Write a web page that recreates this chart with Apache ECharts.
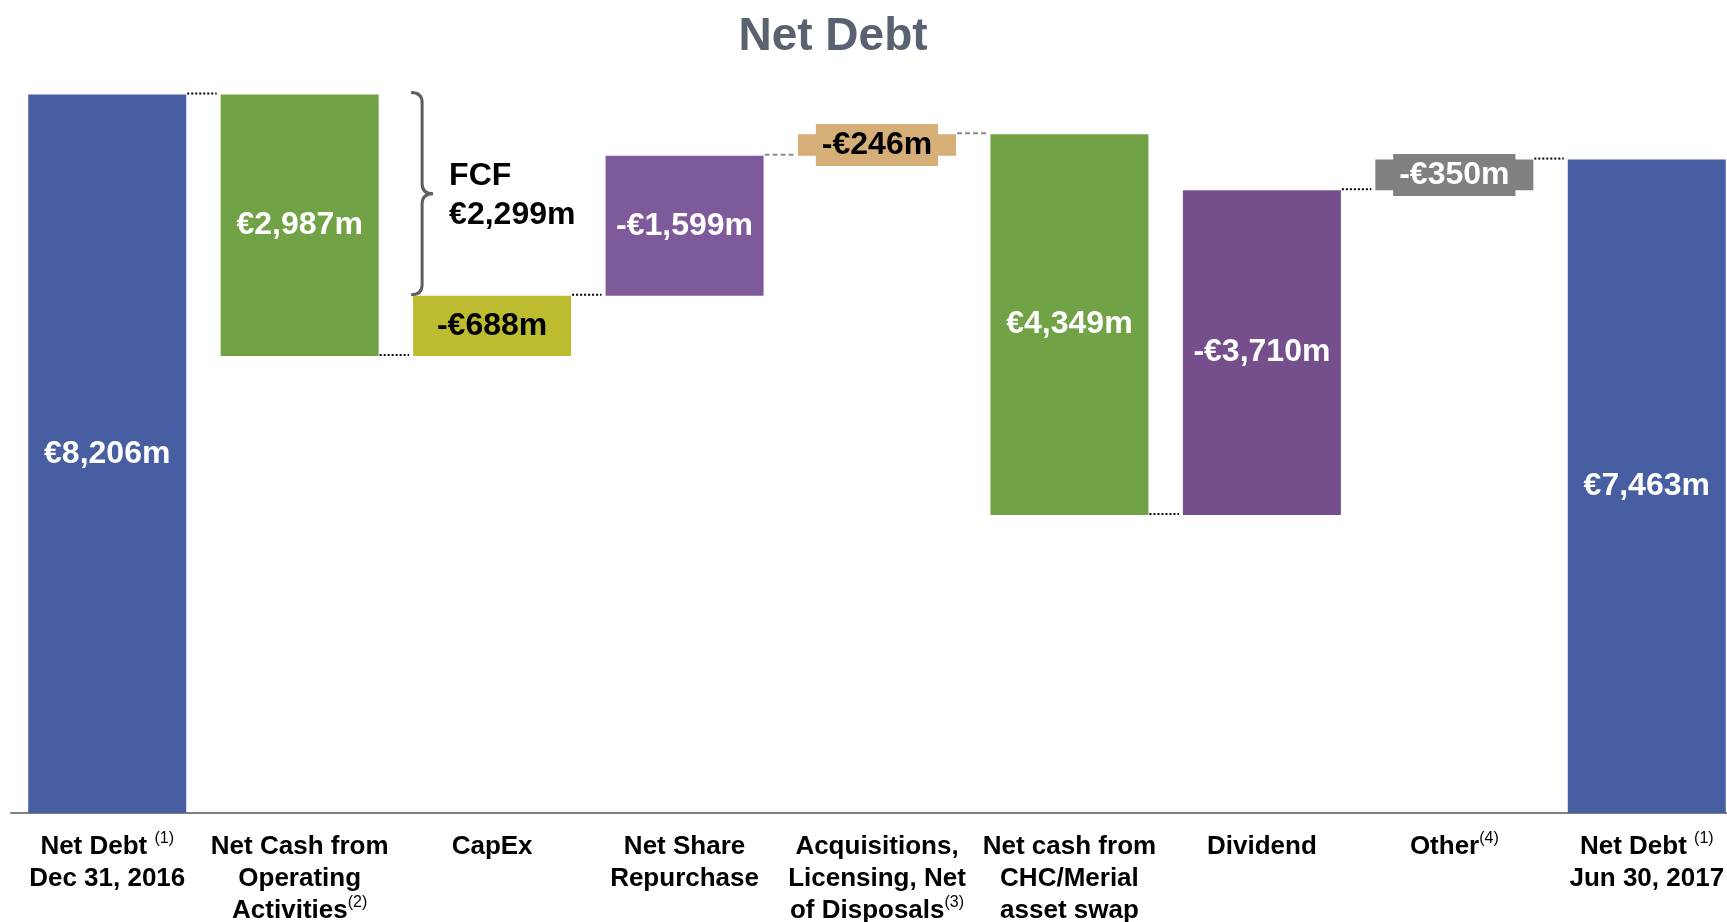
<!DOCTYPE html>
<html>
<head>
<meta charset="utf-8">
<script src="https://cdn.jsdelivr.net/npm/echarts@6/dist/echarts.min.js"></script>
<style>
  html, body { margin: 0; padding: 0; background: #fff; }
  #chart { width: 1727px; height: 922px; }
</style>
</head>
<body>
<div id="chart"></div>
<script>
// categories (s = superscript footnote)
const categories = [
  'Net Debt {s|(1)}\nDec 31, 2016',
  'Net Cash from\nOperating\nActivities{s|(2)}',
  'CapEx',
  'Net Share\nRepurchase',
  'Acquisitions,\nLicensing, Net\nof Disposals{s|(3)}',
  'Net cash from\nCHC/Merial\nasset swap',
  'Dividend',
  'Other{s|(4)}',
  'Net Debt {s|(1)}\nJun 30, 2017'
]
// amounts as shown on the slide (positive = cash in, reduces net debt)
const amounts = [8206, 2987, -688, -1599, -246, 4349, -3710, -350, 7463]
const kinds = ['total', 'change', 'change', 'change', 'change', 'change', 'change', 'change', 'total']

const barColors = ['#475ea3', '#71a346', '#bdbb30', '#7f5a9a', '#d5ae78', '#71a346', '#744f8b', '#808080', '#475ea3']
const labelColors = ['#fff', '#fff', '#000', '#fff', '#000', '#fff', '#fff', '#fff', '#fff']
const boxedLabel = [false, false, false, false, true, false, false, true, false]
const dashedLink = [false, false, false, true, true, false, false, false]

const barWidth = 158
const font = "'Liberation Sans', Arial, sans-serif"

function fmt(v) {
  return (v < 0 ? '-' : '') + '€' + Math.abs(v).toLocaleString('en-US') + 'm'
}

// running net debt level
var base = [], size = [], levels = []
var level = 0
amounts.forEach(function(v, i) {
  if (kinds[i] === 'total') {
    base.push(0)
    size.push(v)
    level = v
  } else {
    var next = level - v
    base.push(Math.min(level, next))
    size.push(Math.abs(v))
    level = next
  }
  levels.push(level)
})

var links = []
for (var i = 0; i < categories.length - 1; i++) {
  links.push([i, levels[i], dashedLink[i] ? 1 : 0])
}

// FCF = operating cash + capex, brace spans both levels
var fcf = amounts[1] + amounts[2]
var braceData = [[2, levels[0], levels[2]]]

var deltaData = size.map(function(v, i) {
  var lab = {
    show: true,
    position: 'inside',
    formatter: fmt(amounts[i]),
    color: labelColors[i],
    fontSize: 32,
    fontWeight: 'bold',
    fontFamily: font
  }
  if (boxedLabel[i]) {
    lab.backgroundColor = barColors[i]
    lab.padding = [5, 6]
    lab.lineHeight = 32
  }
  return { value: v, itemStyle: { color: barColors[i] }, label: lab }
})

function renderLink(params, api) {
  var p = api.coord([api.value(0), api.value(1)])
  var band = api.size([1, 0])[0]
  var half = barWidth / 2
  var dashed = api.value(2) === 1
  return {
    type: 'line',
    shape: { x1: p[0] + half + 1, y1: p[1] - 1, x2: p[0] + band - half - 4, y2: p[1] - 1 },
    style: {
      stroke: dashed ? '#8c8c8c' : '#000',
      lineWidth: 2,
      lineDash: dashed ? [5, 3] : [2, 2]
    }
  }
}

function renderBrace(params, api) {
  var pTop = api.coord([api.value(0), api.value(1)])
  var pBot = api.coord([api.value(0), api.value(2)])
  var x0 = pTop[0] - barWidth / 2 - 2
  var xs = x0 + 11
  var xt = x0 + 22
  var yT = pTop[1] - 2
  var yB = pBot[1] - 1
  var yM = (yT + yB) / 2
  var r = 10
  var d = 'M' + x0 + ',' + yT + ' Q' + xs + ',' + yT + ' ' + xs + ',' + (yT + r) +
    ' L' + xs + ',' + (yM - r) + ' Q' + xs + ',' + yM + ' ' + xt + ',' + yM +
    ' Q' + xs + ',' + yM + ' ' + xs + ',' + (yM + r) +
    ' L' + xs + ',' + (yB - r) + ' Q' + xs + ',' + yB + ' ' + x0 + ',' + yB
  return {
    type: 'group',
    children: [
      {
        type: 'path',
        shape: { pathData: d },
        style: { fill: 'none', stroke: '#5f5f5f', lineWidth: 3 }
      },
      {
        type: 'text',
        x: x0 + 38,
        y: yM + 2,
        style: {
          text: 'FCF\n' + fmt(fcf),
          fill: '#000',
          font: 'bold 32px ' + font,
          lineHeight: 39,
          verticalAlign: 'middle',
          align: 'left'
        }
      }
    ]
  }
}

var myChart = echarts.init(document.getElementById('chart'))
var option = {
  animation: false,
  textStyle: { fontFamily: font },
  title: {
    text: 'Net Debt',
    left: 833,
    top: 14,
    padding: 0,
    textAlign: 'center',
    textStyle: { fontSize: 46, fontWeight: 'bold', color: '#5a6170', fontFamily: font }
  },
  grid: { left: 11, top: 25, width: 1732, height: 788, outerBoundsMode: 'none' },
  xAxis: {
    type: 'category',
    data: categories,
    axisTick: { show: false },
    axisLine: { lineStyle: { color: '#808080', width: 2 } },
    axisLabel: {
      interval: 0,
      hideOverlap: false,
      margin: 18,
      color: '#000',
      fontSize: 26,
      fontWeight: 'bold',
      lineHeight: 32,
      fontFamily: font,
      rich: {
        s: { fontSize: 16, fontWeight: 'normal', color: '#000', verticalAlign: 'top', lineHeight: 16, fontFamily: font }
      }
    }
  },
  yAxis: { type: 'value', min: 0, max: 9000, show: false },
  series: [
    {
      type: 'bar',
      stack: 'w',
      barWidth: barWidth,
      silent: true,
      itemStyle: { color: 'transparent' },
      data: base
    },
    {
      type: 'bar',
      stack: 'w',
      barWidth: barWidth,
      data: deltaData
    },
    {
      type: 'custom',
      renderItem: renderLink,
      encode: { x: 0, y: 1 },
      data: links,
      z: 5
    },
    {
      type: 'custom',
      renderItem: renderBrace,
      encode: { x: 0, y: [1, 2] },
      data: braceData,
      z: 5
    }
  ]
}
myChart.setOption(option)
</script>
</body>
</html>
